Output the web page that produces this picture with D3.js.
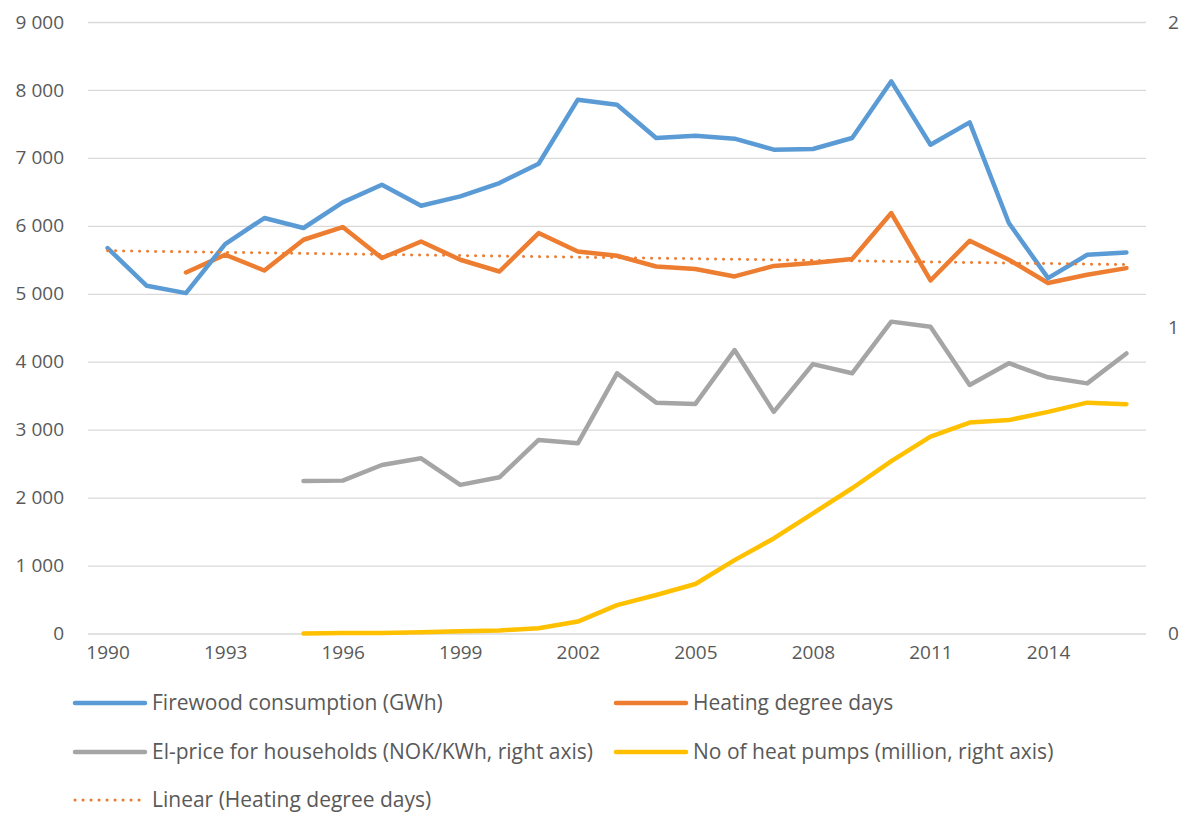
<!DOCTYPE html>
<html>
<head>
<meta charset="utf-8">
<script src="https://cdn.jsdelivr.net/npm/d3@7"></script>
<style>
  body { margin: 0; background: #fff; }
  text { font-family: 'Open Sans', sans-serif; fill: #595959; }
</style>
</head>
<body>
<div id="chart"></div>
<script>
let years = d3.range(1990, 2017)

// left axis
let firewood = [5673, 5118, 5010, 5732, 6115, 5968, 6345, 6605, 6296, 6433,
  6630, 6914, 7857, 7783, 7293, 7327, 7283, 7121, 7131, 7293,
  8127, 7194, 7523, 6041, 5231, 5574, 5608]
let heatingDays = [null, null, 5314, 5574, 5343, 5795, 5982, 5526, 5770, 5501,
  5328, 5894, 5623, 5560, 5402, 5364, 5255, 5410, 5452, 5511,
  6188, 5196, 5781, 5501, 5158, 5280, 5378]

// right axis
let elPrice = [null, null, null, null, null, 0.499, 0.500, 0.551, 0.573, 0.486,
  0.511, 0.633, 0.622, 0.851, 0.755, 0.751, 0.927, 0.725, 0.881, 0.851,
  1.020, 1.003, 0.813, 0.884, 0.838, 0.818, 0.916]
let heatPumps = [null, null, null, null, null, 0.000, 0.002, 0.002, 0.004, 0.007,
  0.010, 0.017, 0.039, 0.093, 0.126, 0.162, 0.240, 0.311, 0.393, 0.475,
  0.564, 0.644, 0.690, 0.698, 0.725, 0.755, 0.750]

let leftTicks = [0, 1000, 2000, 3000, 4000, 5000, 6000, 7000, 8000, 9000]
let rightTicks = [0, 1, 2]
let yearLabels = [1990, 1993, 1996, 1999, 2002, 2005, 2008, 2011, 2014]

let width = 1187, height = 813
let plot = { left: 88, right: 1146, top: 22, bottom: 633.5 }
let fontSize = 19

let svg = d3.select('#chart')
  .append('svg')
  .attr('width', width)
  .attr('height', height)

let x = d3.scalePoint()
  .domain(years)
  .range([plot.left, plot.right])
  .padding(0.5)

let yL = d3.scaleLinear().domain([0, 9000]).range([plot.bottom, plot.top])
let yR = d3.scaleLinear().domain([0, 2]).range([plot.bottom, plot.top])

let fmt = d => d3.format(',')(d).replace(/,/g, ' ')

function styleText(g) {
  g.select('.domain').remove()
  g.selectAll('text')
    .attr('font-size', fontSize)
    .attr('fill', '#595959')
    .style('font-family', "'Open Sans', sans-serif")
}

// gridlines + left labels
svg.append('g')
  .attr('transform', 'translate(' + plot.left + ',0)')
  .call(d3.axisLeft(yL).tickValues(leftTicks).tickFormat(fmt)
    .tickSize(-(plot.right - plot.left)).tickPadding(24))
  .call(styleText)
  .call(g => g.selectAll('line').attr('stroke', '#d9d9d9').attr('stroke-width', 1.3))

// right labels
svg.append('g')
  .attr('transform', 'translate(' + plot.right + ',0)')
  .call(d3.axisRight(yR).tickValues(rightTicks).tickFormat(d3.format('d'))
    .tickSize(0).tickPadding(22))
  .call(styleText)

// x labels
svg.append('g')
  .attr('transform', 'translate(0,' + plot.bottom + ')')
  .call(d3.axisBottom(x).tickValues(yearLabels).tickSize(0).tickPadding(12))
  .call(styleText)

function drawLine(values, y, color, w) {
  let line = d3.line()
    .defined(d => d[1] != null)
    .x(d => x(d[0]))
    .y(d => y(d[1]))
  svg.append('path')
    .datum(years.map((yr, i) => [yr, values[i]]))
    .attr('d', line)
    .attr('fill', 'none')
    .attr('stroke', color)
    .attr('stroke-width', w)
    .attr('stroke-linejoin', 'round')
    .attr('stroke-linecap', 'round')
}

// linear trend of heating degree days (index-based, like the spreadsheet)
let pts = heatingDays.map((v, i) => [i + 1, v]).filter(d => d[1] != null)
let mx = d3.mean(pts, d => d[0]), my = d3.mean(pts, d => d[1])
let slope = d3.sum(pts, d => (d[0] - mx) * (d[1] - my)) / d3.sum(pts, d => (d[0] - mx) * (d[0] - mx))
let icpt = my - slope * mx
let trend = years.map((yr, i) => icpt + slope * (i + 1))

drawLine(heatPumps, yR, '#ffc000', 4.5)
drawLine(elPrice, yR, '#a5a5a5', 4.5)
drawLine(heatingDays, yL, '#ed7d31', 4.5)
drawLine(firewood, yL, '#5b9bd5', 4.5)

svg.append('path')
  .datum(years.map((yr, i) => [yr, trend[i]]))
  .attr('d', d3.line().x(d => x(d[0])).y(d => yL(d[1])))
  .attr('fill', 'none')
  .attr('stroke', '#ed7d31')
  .attr('stroke-width', 3)
  .attr('stroke-linecap', 'round')
  .attr('stroke-dasharray', '0.1 7.9')

// legend
let legend = [
  { name: 'Firewood consumption (GWh)', color: '#5b9bd5', col: 0, row: 0 },
  { name: 'Heating degree days', color: '#ed7d31', col: 1, row: 0 },
  { name: 'El-price for households (NOK/KWh, right axis)', color: '#a5a5a5', col: 0, row: 1 },
  { name: 'No of heat pumps (million, right axis)', color: '#ffc000', col: 1, row: 1 },
  { name: 'Linear (Heating degree days)', color: '#ed7d31', col: 0, row: 2, dotted: true }
]
let colX = [75, 616], rowY = [703, 752, 800]

let item = svg.append('g').selectAll('g')
  .data(legend)
  .enter()
  .append('g')
  .attr('transform', d => 'translate(' + colX[d.col] + ',' + rowY[d.row] + ')')

item.append('line')
  .attr('x1', 0).attr('x2', 70)
  .attr('stroke', d => d.color)
  .attr('stroke-width', d => d.dotted ? 3 : 4.5)
  .attr('stroke-linecap', 'round')
  .attr('stroke-dasharray', d => d.dotted ? '0.1 7.9' : null)

item.append('text')
  .attr('x', 77)
  .attr('dy', '0.35em')
  .attr('font-size', 21)
  .text(d => d.name)
</script>
</body>
</html>
